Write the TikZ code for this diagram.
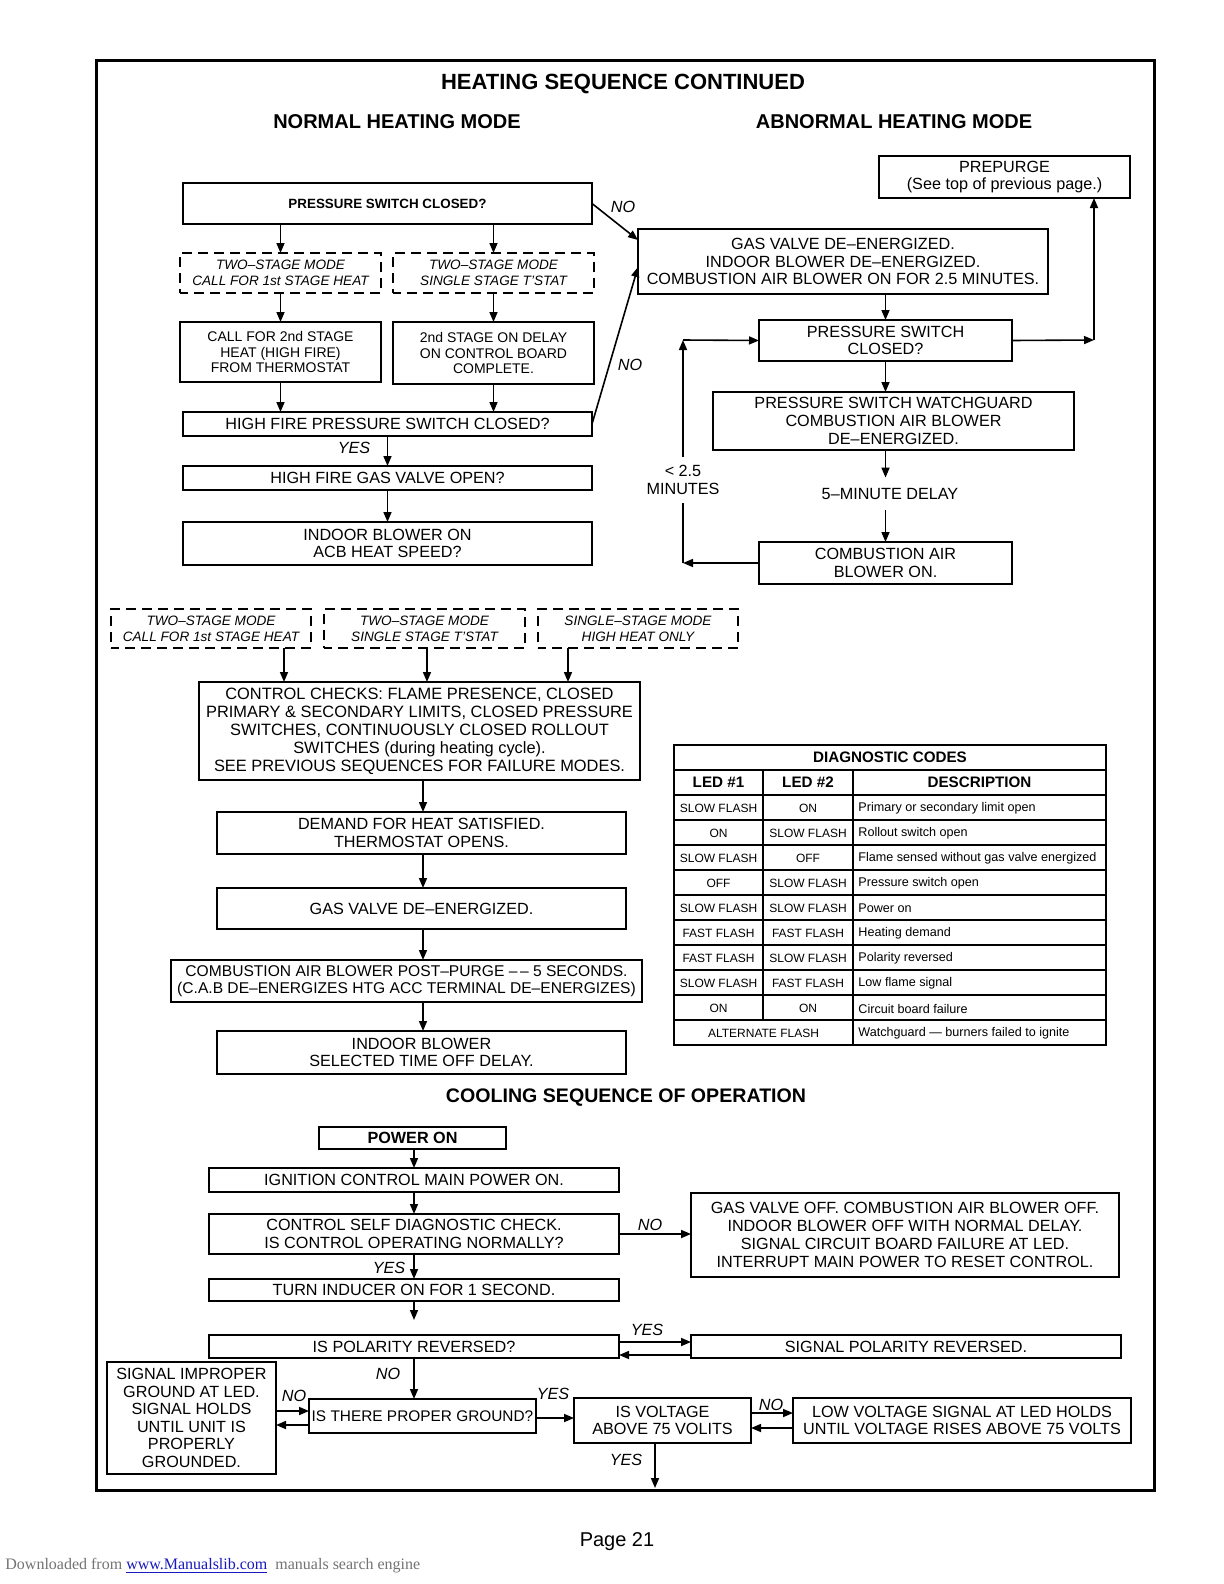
\documentclass[tikz,border=0pt]{standalone}
\usepackage{fontspec}
\setmainfont{Liberation Sans}
\newfontfamily\serifdl{Liberation Serif}
\usetikzlibrary{arrows.meta}
\definecolor{dlgray}{gray}{0.45}
\definecolor{dlblue}{rgb}{0.1,0.1,0.75}
\newcommand\bt{\fontsize{8.1}{8.8}\selectfont}
\newcommand\smt{\fontsize{7}{7.8}\selectfont}
\newcommand\dst{\fontsize{6.8}{8.1}\selectfont}
\newcommand\tabs{\fontsize{6}{7}\selectfont}
\newcommand\tabd{\fontsize{6.3}{7}\selectfont}
\newcommand\mkbox[7]{%
  \pgfmathsetmacro\mkw{(#5-#3)*0.5}%
  \pgfmathsetmacro\mkh{(#6-#4)*0.5}%
  \node[#1,minimum width=\mkw pt,minimum height=\mkh pt] (#2) at ({(#3+#5)/2},{(#4+#6)/2}) {#7};}
\tikzset{
  box/.style={draw, line width=1pt, inner sep=0pt, outer sep=0pt, align=center, font=\bt},
  dbox/.style={box, dash pattern=on 5pt off 3pt, dash phase=1pt, font=\dst\itshape},
  sbox/.style={box, font=\smt},
  flow/.style={line width=0.8pt, -{Triangle[length=5pt,width=4pt]}},
  plain/.style={line width=0.8pt},
  lbl/.style={font=\bt\itshape, inner sep=0pt},
  txt/.style={font=\bt, inner sep=0pt, align=center},
  tcell/.style={font=\tabs, inner sep=0pt},
  thead/.style={font=\fontsize{7.6}{9}\selectfont\bfseries, inner sep=0pt},
  tline/.style={line width=1pt},
}
\begin{document}
\begin{tikzpicture}[x=0.5pt,y=-0.5pt]
\useasboundingbox (0,0) rectangle (1224,1584);
\fill[white] (0,0) rectangle (1224,1584);
\draw[line width=1.5pt] (96,61) rectangle (1154,1490);

% titles
\node[font=\fontsize{11}{13}\selectfont\bfseries, inner sep=0pt] (title) at (623,84) {HEATING SEQUENCE CONTINUED};
\node[font=\fontsize{10}{12}\selectfont\bfseries, inner sep=0pt] (nhm) at (397,122) {NORMAL HEATING MODE};
\node[font=\fontsize{10}{12}\selectfont\bfseries, inner sep=0pt] (ahm) at (894,122) {ABNORMAL HEATING MODE};

% normal heating
\mkbox{box,font=\fontsize{6.7}{8}\selectfont\bfseries}{psc}{183}{183}{592}{224}{PRESSURE SWITCH CLOSED?}
\mkbox{dbox}{d1}{180}{253}{381}{293}{TWO–STAGE MODE\\CALL FOR 1st STAGE HEAT}
\mkbox{dbox}{d2}{393}{253}{594}{293}{TWO–STAGE MODE\\SINGLE STAGE T’STAT}
\mkbox{sbox}{c2}{180}{322}{381}{382}{CALL FOR 2nd STAGE\\HEAT (HIGH FIRE)\\FROM THERMOSTAT}
\mkbox{sbox}{sdel}{393}{322}{594}{384}{2nd STAGE ON DELAY\\ON CONTROL BOARD\\COMPLETE.}
\mkbox{box}{hfps}{183}{412}{592}{436}{HIGH FIRE PRESSURE SWITCH CLOSED?}
\mkbox{box}{hfgv}{183}{466}{592}{490}{HIGH FIRE GAS VALVE OPEN?}
\mkbox{box}{ib}{183}{522}{592}{565}{INDOOR BLOWER ON\\ACB HEAT SPEED?}

\draw[flow] (psc.south -| d1.north) -- (d1.north);
\draw[flow] (psc.south -| d2.north) -- (d2.north);
\draw[flow] (d1.south) -- (c2.north);
\draw[flow] (d2.south) -- (sdel.north);
\draw[flow] (c2.south) -- (c2.south |- hfps.north);
\draw[flow] (sdel.south) -- (sdel.south |- hfps.north);
\draw[flow] (hfps.south) -- (hfgv.north);
\draw[flow] (hfgv.south) -- (ib.north);
\node[lbl] (yes1) at (354,448) {YES};

% abnormal heating
\mkbox{box}{prep}{879}{156}{1130}{198}{PREPURGE\\(See top of previous page.)}
\mkbox{box}{gv}{638}{229}{1048}{294}{GAS VALVE DE–ENERGIZED.\\INDOOR BLOWER DE–ENERGIZED.\\COMBUSTION AIR BLOWER ON FOR 2.5 MINUTES.}
\mkbox{box}{psc2}{759}{320}{1012}{361}{PRESSURE SWITCH\\CLOSED?}
\mkbox{box}{wg}{713}{392}{1074}{450}{PRESSURE SWITCH WATCHGUARD\\COMBUSTION AIR BLOWER\\DE–ENERGIZED.}
\node[txt, minimum height=16pt] (delay) at (890,494) {5–MINUTE DELAY};
\mkbox{box}{cab}{759}{542}{1012}{584}{COMBUSTION AIR\\BLOWER ON.}
\node[txt, minimum height=22.5pt] (lt) at (683,480) {< 2.5\\MINUTES};

\coordinate (ng1) at (638,240);
\coordinate (ng2) at (638,267);
\draw[flow] (psc.east) -- (ng1);
\draw[flow] (hfps.east) -- (ng2);
\node[lbl] (no1) at (623,207) {NO};
\node[lbl] (no2) at (630,365) {NO};

\draw[flow] (psc2.north |- gv.south) -- (psc2.north);
\draw[flow] (psc2.south) -- (psc2.south |- wg.north);
\draw[flow] (psc2.south |- wg.south) -- (psc2.south |- delay.north);
\draw[flow] (psc2.south |- delay.south) -- (psc2.south |- cab.north);
\coordinate (lc1) at (683,563);
\coordinate (lc2) at (683,340);
\coordinate (rc) at (1094,340);
\draw[flow] (cab.west) -- (lc1);
\draw[plain] (lc1) -- (lt.south);
\draw[flow] (lt.north) -- (lc2);
\draw[flow] (lc2) -- (psc2.west);
\draw[flow] (psc2.east) -- (rc);
\draw[flow] (rc) -- (rc |- prep.south);

% middle sequence
\mkbox{dbox}{m1}{111}{609}{311}{648}{TWO–STAGE MODE\\CALL FOR 1st STAGE HEAT}
\mkbox{dbox}{m2}{324}{609}{525}{648}{TWO–STAGE MODE\\SINGLE STAGE T’STAT}
\mkbox{dbox}{m3}{538}{609}{738}{648}{SINGLE–STAGE MODE\\HIGH HEAT ONLY}
\mkbox{box,font=\fontsize{8.2}{9}\selectfont}{cc}{199}{682}{640}{780}{CONTROL CHECKS: FLAME PRESENCE, CLOSED\\PRIMARY \& SECONDARY LIMITS, CLOSED PRESSURE\\SWITCHES, CONTINUOUSLY CLOSED ROLLOUT\\SWITCHES (during heating cycle).\\SEE PREVIOUS SEQUENCES FOR FAILURE MODES.}
\mkbox{box}{dem}{217}{812}{626}{854}{DEMAND FOR HEAT SATISFIED.\\THERMOSTAT OPENS.}
\mkbox{box}{gvd}{217}{888}{626}{929}{GAS VALVE DE–ENERGIZED.}
\mkbox{box,font=\fontsize{7.8}{8.8}\selectfont}{cabp}{171}{960}{642}{1002}{COMBUSTION AIR BLOWER POST–PURGE –\,– 5 SECONDS.\\(C.A.B DE–ENERGIZES HTG ACC TERMINAL DE–ENERGIZES)}
\mkbox{box}{ibd}{217}{1031}{626}{1074}{INDOOR BLOWER\\SELECTED TIME OFF DELAY.}

\coordinate (a1) at (284,0);
\coordinate (a2) at (427,0);
\coordinate (a3) at (568,0);
\coordinate (vx) at (423,0);
\draw[flow] (m1.south -| a1) -- (cc.north -| a1);
\draw[flow] (m2.south -| a2) -- (cc.north -| a2);
\draw[flow] (m3.south -| a3) -- (cc.north -| a3);
\draw[flow] (cc.south -| vx) -- (dem.north -| vx);
\draw[flow] (dem.south -| vx) -- (gvd.north -| vx);
\draw[flow] (gvd.south -| vx) -- (cabp.north -| vx);
\draw[flow] (cabp.south -| vx) -- (ibd.north -| vx);

% diagnostic table
\draw[tline] (674,745) rectangle (1106,1045);
\foreach \y in {770,795,...,1020} \draw[tline] (674,\y) -- (1106,\y);
\draw[tline] (763,770) -- (763,1020);
\draw[tline] (853,770) -- (853,1045);
\node[thead] (th0) at (890,757.5) {DIAGNOSTIC CODES};
\node[thead] (th1) at (718.5,782.5) {LED \#1};
\node[thead] (th2) at (808,782.5) {LED \#2};
\node[thead] (th3) at (979.5,782.5) {DESCRIPTION};
\foreach \i/\a/\b/\d in {1/SLOW FLASH/ON/Primary or secondary limit open,
  2/ON/SLOW FLASH/Rollout switch open,
  3/SLOW FLASH/OFF/Flame sensed without gas valve energized,
  4/OFF/SLOW FLASH/Pressure switch open,
  5/SLOW FLASH/SLOW FLASH/Power on,
  6/FAST FLASH/FAST FLASH/Heating demand,
  7/FAST FLASH/SLOW FLASH/Polarity reversed,
  8/SLOW FLASH/FAST FLASH/Low flame signal,
  9/ON/ON/Circuit board failure}{
  \pgfmathsetmacro\ry{808.5+(\i-1)*25}
  \node[tcell] (ta\i) at (718.5,\ry) {\a};
  \node[tcell] (tb\i) at (808,\ry) {\b};
  \node[tcell, font=\tabd, anchor=west] (tc\i) at (858,\ry) {\d};
}
\node[tcell] (ta10) at (763.5,1033) {ALTERNATE FLASH};
\node[tcell, font=\tabd, anchor=west] (tc10) at (858,1033) {Watchguard — burners failed to ignite};

% cooling
\node[font=\fontsize{9.8}{12}\selectfont\bfseries, inner sep=0pt] (ctitle) at (626,1098) {COOLING SEQUENCE OF OPERATION};
\mkbox{box,font=\bt\bfseries}{pon}{319}{1127}{506}{1149}{POWER ON}
\mkbox{box}{ign}{209}{1168}{619}{1192}{IGNITION CONTROL MAIN POWER ON.}
\mkbox{box}{sd}{209}{1214}{619}{1254}{CONTROL SELF DIAGNOSTIC CHECK.\\IS CONTROL OPERATING NORMALLY?}
\mkbox{box}{ti}{209}{1279}{619}{1301}{TURN INDUCER ON FOR 1 SECOND.}
\mkbox{box,font=\fontsize{8.1}{9}\selectfont}{gvo}{691}{1193}{1119}{1277}{GAS VALVE OFF. COMBUSTION AIR BLOWER OFF.\\INDOOR BLOWER OFF WITH NORMAL DELAY.\\SIGNAL CIRCUIT BOARD FAILURE AT LED.\\INTERRUPT MAIN POWER TO RESET CONTROL.}
\mkbox{box}{ipr}{209}{1335}{619}{1358}{IS POLARITY REVERSED?}
\mkbox{box}{spr}{691}{1335}{1121}{1358}{SIGNAL POLARITY REVERSED.}
\mkbox{box}{sig}{107}{1362}{276}{1474}{SIGNAL IMPROPER\\GROUND AT LED.\\SIGNAL HOLDS\\UNTIL UNIT IS\\PROPERLY\\GROUNDED.}
\mkbox{box,font=\fontsize{7.7}{8.8}\selectfont}{gnd}{309}{1399}{536}{1433}{IS THERE PROPER GROUND?}
\mkbox{box}{vol}{574}{1398}{751}{1443}{IS VOLTAGE\\ABOVE 75 VOLITS}
\mkbox{box}{low}{793}{1398}{1131}{1443}{LOW VOLTAGE SIGNAL AT LED HOLDS\\UNTIL VOLTAGE RISES ABOVE 75 VOLTS}

\coordinate (cx) at (414,0);
\coordinate (tie) at (414,1320);
\coordinate (ya) at (0,1342);
\coordinate (yb) at (0,1355);
\coordinate (yc) at (0,1411);
\coordinate (yd) at (0,1425);
\coordinate (ye) at (0,1418);
\coordinate (yf) at (0,1413);
\coordinate (yg) at (0,1428);
\coordinate (vx2) at (655,0);
\coordinate (vend) at (655,1488);
\draw[flow] (pon.south -| cx) -- (ign.north -| cx);
\draw[flow] (ign.south -| cx) -- (sd.north -| cx);
\draw[flow] (sd.south -| cx) -- (ti.north -| cx);
\draw[flow] (sd.east) -- (sd.east -| gvo.west);
\draw[flow] (ti.south -| cx) -- (tie);
\draw[flow] (ipr.east |- ya) -- (spr.west |- ya);
\draw[flow] (spr.west |- yb) -- (ipr.east |- yb);
\draw[flow] (ipr.south -| cx) -- (gnd.north -| cx);
\draw[flow] (sig.east |- yc) -- (gnd.west |- yc);
\draw[flow] (gnd.west |- yd) -- (sig.east |- yd);
\draw[flow] (gnd.east |- ye) -- (vol.west |- ye);
\draw[flow] (vol.east |- yf) -- (low.west |- yf);
\draw[flow] (low.west |- yg) -- (vol.east |- yg);
\draw[flow] (vol.south -| vx2) -- (vend);
\node[lbl] (cyes1) at (389,1268) {YES};
\node[lbl] (cno1) at (650,1225) {NO};
\node[lbl] (cyes2) at (647,1330) {YES};
\node[lbl] (cno2) at (388,1374) {NO};
\node[lbl] (cno3) at (294,1396) {NO};
\node[lbl] (cyes3) at (553,1394) {YES};
\node[lbl] (cno4) at (771,1405) {NO};
\node[lbl] (cyes4) at (626,1460) {YES};

% footer
\node[font=\fontsize{10}{12}\selectfont, inner sep=0pt] (page) at (617,1542) {Page 21};
\node[anchor=west, font=\serifdl\fontsize{8}{10}\selectfont, text=dlgray, inner sep=0pt] (dlnote) at (5,1566) {Downloaded from \textcolor{dlblue}{\underline{www.Manualslib.com}}\ \ manuals search engine};
\end{tikzpicture}
\end{document}
